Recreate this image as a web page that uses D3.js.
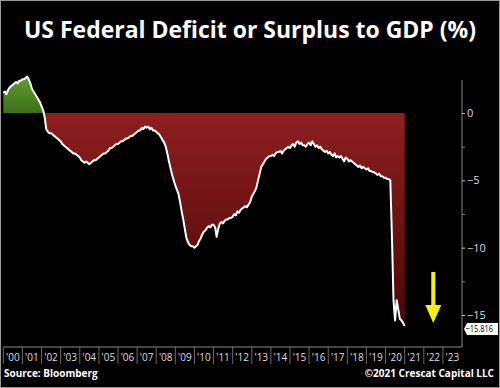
<!DOCTYPE html>
<html>
<head>
<meta charset="utf-8">
<script src="https://cdn.jsdelivr.net/npm/d3@7/dist/d3.min.js"></script>
<style>
  html, body { margin: 0; padding: 0; background: #000; }
  svg { display: block; }
</style>
</head>
<body>
<div id="chart"></div>
<script>
// #region Data (monthly, Jan 2000 .. Jan 2021)
const startYear = 2000;
const yearLabels = ["'00", "'01", "'02", "'03", "'04", "'05", "'06", "'07", "'08", "'09", "'10", "'11",
  "'12", "'13", "'14", "'15", "'16", "'17", "'18", "'19", "'20", "'21", "'22", "'23"];
const yTicks = [0, -5, -10, -15];
const yMinorTicks = [-2.5, -7.5, -12.5];
const deficitValues = [
  // 2000
  1.5, 1.6, 1.4, 1.7, 1.9, 2.0, 2.1, 2.2, 2.3, 2.2, 2.4, 2.4,
  // 2001
  2.5, 2.5, 2.6, 2.7, 2.5, 2.2, 1.8, 1.6, 1.4, 1.2, 1.0, 0.8,
  // 2002
  0.5, 0.2, -0.3, -1.2, -1.4, -1.5, -1.5, -1.6, -1.7, -1.8, -1.9, -2.0,
  // 2003
  -2.1, -2.3, -2.4, -2.5, -2.6, -2.7, -2.8, -2.9, -3.0, -3.0, -3.1, -3.2,
  // 2004
  -3.3, -3.5, -3.6, -3.7, -3.6, -3.7, -3.8, -3.7, -3.6, -3.5, -3.5, -3.4,
  // 2005
  -3.3, -3.2, -3.1, -3.0, -3.0, -2.9, -2.8, -2.6, -2.6, -2.5, -2.4, -2.3,
  // 2006
  -2.3, -2.2, -2.1, -2.1, -2.0, -1.9, -1.9, -1.8, -1.7, -1.7, -1.6, -1.5,
  // 2007
  -1.4, -1.3, -1.3, -1.1, -1.2, -1.0, -1.1, -1.0, -1.2, -1.1, -1.3, -1.3,
  // 2008
  -1.4, -1.5, -1.6, -1.8, -2.0, -2.2, -2.5, -3.0, -3.6, -4.1, -4.6, -5.0,
  // 2009
  -5.4, -5.7, -6.0, -6.6, -7.3, -7.9, -8.6, -9.3, -9.6, -9.8, -9.9, -9.9,
  // 2010
  -10.0, -9.9, -9.8, -9.5, -9.3, -9.0, -8.8, -8.7, -8.5, -8.4, -8.5, -8.3,
  // 2011
  -8.3, -8.5, -9.2, -8.6, -8.2, -8.1, -8.2, -8.0, -7.9, -7.9, -7.8, -7.8,
  // 2012
  -7.7, -7.5, -7.6, -7.3, -7.4, -7.2, -7.1, -7.0, -6.9, -7.0, -6.8, -6.6,
  // 2013
  -6.2, -6.0, -5.8, -5.5, -5.0, -4.5, -4.0, -3.8, -3.6, -3.4, -3.3, -3.2,
  // 2014
  -3.2, -3.1, -3.2, -3.0, -2.9, -2.9, -2.8, -3.0, -2.8, -2.7, -2.6, -2.5,
  // 2015
  -2.6, -2.4, -2.3, -2.5, -2.2, -2.1, -2.3, -2.2, -2.4, -2.4, -2.5, -2.3,
  // 2016
  -2.2, -2.4, -2.1, -2.3, -2.5, -2.4, -2.6, -2.5, -2.7, -2.8, -2.9, -2.8,
  // 2017
  -3.0, -2.9, -3.1, -3.2, -3.0, -3.3, -3.2, -3.3, -3.2, -3.4, -3.6, -3.3,
  // 2018
  -3.4, -3.6, -3.5, -3.6, -3.7, -3.8, -3.9, -4.0, -3.9, -4.1, -4.0, -4.1,
  // 2019
  -4.2, -4.1, -4.3, -4.3, -4.4, -4.4, -4.5, -4.6, -4.5, -4.7, -4.7, -4.8,
  // 2020
  -4.8, -4.9, -4.9, -5.0, -9.0, -13.9, -15.4, -13.9, -14.6, -15.3, -15.4, -15.6,
  // 2021
  -15.816
];
const lastValue = -15.816;
// #endregion

// #region Setup
const width = 500;
const height = 388;
const plot = { left: 3.3, right: 462, top: 80, bottom: 347 };

const svg = d3.select('#chart').append('svg')
  .attr('width', width)
  .attr('height', height)
  .style('background', '#000');

const data = deficitValues.map((v, i) => ({ date: new Date(startYear, i, 1), value: v }));

const x = d3.scaleTime()
  .domain([new Date(2000, 0, 1), new Date(2024, 0, 1)])
  .range([plot.left, plot.right]);

const y = d3.scaleLinear()
  .domain([-15, 0])
  .range([315, 113]);

const defs = svg.append('defs');
const redGrad = defs.append('linearGradient')
  .attr('id', 'redGrad').attr('gradientUnits', 'userSpaceOnUse')
  .attr('x1', 0).attr('x2', 0).attr('y1', y(0)).attr('y2', y(-15.8));
redGrad.append('stop').attr('offset', '0%').attr('stop-color', '#8e1f1f');
redGrad.append('stop').attr('offset', '100%').attr('stop-color', '#4a0606');

const greenGrad = defs.append('linearGradient')
  .attr('id', 'greenGrad').attr('gradientUnits', 'userSpaceOnUse')
  .attr('x1', 0).attr('x2', 0).attr('y1', y(2.7)).attr('y2', y(0));
greenGrad.append('stop').attr('offset', '0%').attr('stop-color', '#5f9e2c');
greenGrad.append('stop').attr('offset', '100%').attr('stop-color', '#3e6e1b');
// #endregion

// #region Title
const title = svg.append('text')
  .attr('x', 250)
  .attr('y', 38)
  .attr('text-anchor', 'middle')
  .style('font-family', 'Open Sans, sans-serif')
  .style('font-weight', 'bold')
  .style('font-size', '26px')
  .style('fill', '#fff')
  .text('US Federal Deficit or Surplus to GDP (%)');
// shrink the font until the title spans about the same width as the reference
const titleWidth = title.node().getComputedTextLength();
if (titleWidth > 452) title.style('font-size', (26 * 452 / titleWidth).toFixed(2) + 'px');
// #endregion

// #region Areas and line
const redArea = d3.area()
  .x(d => x(d.date))
  .y0(y(0))
  .y1(d => y(Math.min(d.value, 0)));

const greenArea = d3.area()
  .x(d => x(d.date))
  .y0(y(0))
  .y1(d => y(Math.max(d.value, 0)));

svg.append('path').datum(data).attr('d', redArea).attr('fill', 'url(#redGrad)');
svg.append('path').datum(data).attr('d', greenArea).attr('fill', 'url(#greenGrad)');

svg.append('path')
  .datum(data)
  .attr('d', d3.line().x(d => x(d.date)).y(d => y(d.value)))
  .attr('fill', 'none')
  .attr('stroke', '#fff')
  .attr('stroke-width', 2)
  .attr('stroke-linejoin', 'round');
// #endregion

// #region Axes
svg.append('line')
  .attr('x1', plot.right).attr('x2', plot.right)
  .attr('y1', plot.top).attr('y2', plot.bottom)
  .attr('stroke', '#8a8a8a').attr('stroke-width', 1);

svg.append('line')
  .attr('x1', plot.left).attr('x2', plot.right)
  .attr('y1', plot.bottom).attr('y2', plot.bottom)
  .attr('stroke', '#8a8a8a').attr('stroke-width', 1);

const yAxis = svg.append('g')
  .attr('transform', `translate(${plot.right},0)`)
  .call(d3.axisRight(y).tickValues(yTicks).tickSize(3).tickPadding(2).tickFormat(d3.format('d')));
yAxis.select('.domain').remove();
yAxis.selectAll('line').attr('stroke', '#bbb');
yAxis.selectAll('text')
  .style('font-family', 'Open Sans, sans-serif')
  .style('font-size', '11px')
  .attr('fill', '#ddd');

const yMinor = svg.append('g')
  .attr('transform', `translate(${plot.right},0)`)
  .call(d3.axisRight(y).tickValues(yMinorTicks).tickSize(3).tickFormat(''));
yMinor.select('.domain').remove();
yMinor.selectAll('line').attr('stroke', '#777');

// year dividers and labels
const years = d3.range(2000, 2024);
svg.append('g').selectAll('line')
  .data(years)
  .join('line')
  .attr('x1', d => x(new Date(d, 0, 1)))
  .attr('x2', d => x(new Date(d, 0, 1)))
  .attr('y1', plot.bottom)
  .attr('y2', plot.bottom + 17)
  .attr('stroke', '#6a6a6a');

svg.append('g').selectAll('text')
  .data(years)
  .join('text')
  .attr('x', d => x(new Date(d, 6, 1)))
  .attr('y', 361)
  .attr('text-anchor', 'middle')
  .style('font-family', 'Open Sans, sans-serif')
  .style('font-size', '10px')
  .style('fill', '#ddd')
  .text((d, i) => yearLabels[i]);
// #endregion

// #region Last value tag
const tagY = y(lastValue) + 3;
svg.append('path')
  .attr('d', `M${plot.right + 2},${tagY} L${plot.right + 5},${tagY - 6} L${width - 2},${tagY - 6} L${width - 2},${tagY + 6} L${plot.right + 5},${tagY + 6} Z`)
  .attr('fill', '#fff');
svg.append('text')
  .attr('x', plot.right + 3.5)
  .attr('y', tagY + 3.5)
  .attr('textLength', 27.5)
  .attr('lengthAdjust', 'spacingAndGlyphs')
  .style('font-family', 'Open Sans, sans-serif')
  .style('font-size', '9.5px')
  .style('fill', '#000')
  .text(d3.format('.3f')(lastValue));
// #endregion

// #region Arrow
const arrowX = x(new Date(2022, 6, 1));
svg.append('rect')
  .attr('x', arrowX - 2).attr('y', 272)
  .attr('width', 4).attr('height', 35)
  .attr('fill', '#f2f20a');
svg.append('path')
  .attr('d', `M${arrowX - 8},305 L${arrowX + 8},305 L${arrowX},323 Z`)
  .attr('fill', '#f2f20a');
// #endregion

// #region Footer
svg.append('text')
  .attr('x', 4).attr('y', 377)
  .style('font-family', 'Open Sans, sans-serif')
  .style('font-weight', 'bold')
  .style('font-size', '10px')
  .style('fill', '#fff')
  .text('Source: Bloomberg');
svg.append('text')
  .attr('x', 494).attr('y', 377)
  .attr('text-anchor', 'end')
  .style('font-family', 'Open Sans, sans-serif')
  .style('font-weight', 'bold')
  .style('font-size', '10px')
  .style('fill', '#fff')
  .text('©2021 Crescat Capital LLC');

svg.append('rect')
  .attr('x', 0.5).attr('y', 0.5)
  .attr('width', width - 1).attr('height', height - 1)
  .attr('fill', 'none')
  .attr('stroke', '#9a9a9a');
// #endregion
</script>
</body>
</html>
